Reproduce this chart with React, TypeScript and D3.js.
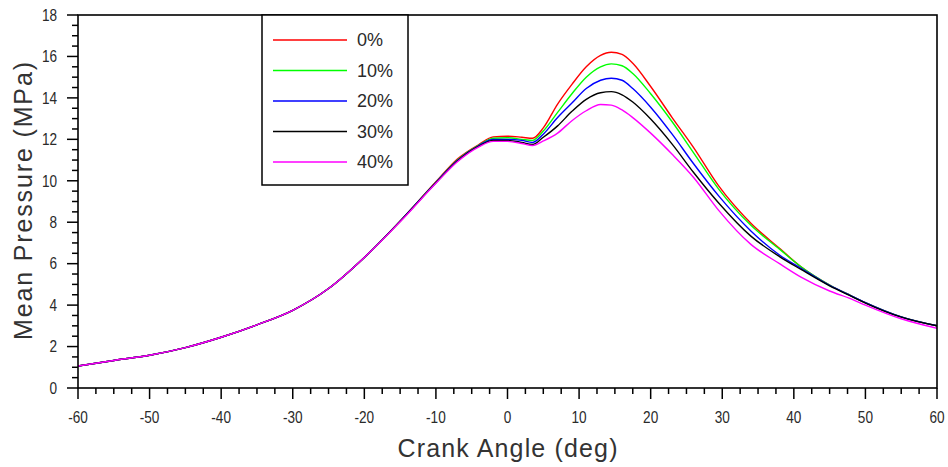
import React from "react";
import * as d3 from "d3";

const angles = [-60, -55, -50, -45, -40, -35, -30, -25, -20, -15, -10, -7, -4, -2, 0, 2, 3.5, 5, 7, 9, 11, 13, 14.5, 16, 17.5, 20, 23, 26, 29.5, 34, 38, 41, 45, 48, 50, 55, 60];

const p0 = [1.06, 1.33, 1.58, 1.95, 2.45, 3.05, 3.75, 4.8, 6.3, 8.05, 9.95, 11.05, 11.75, 12.12, 12.15, 12.1, 12.05, 12.55, 13.7, 14.65, 15.5, 16.05, 16.2, 16.1, 15.67, 14.55, 13.05, 11.6, 9.75, 7.95, 6.74, 5.85, 4.97, 4.45, 4.12, 3.43, 3.0];
const p10 = [1.06, 1.33, 1.58, 1.95, 2.45, 3.05, 3.75, 4.8, 6.3, 8.05, 9.93, 11.0, 11.72, 12.05, 12.08, 12.0, 11.95, 12.4, 13.3, 14.2, 15.0, 15.5, 15.64, 15.55, 15.18, 14.2, 12.85, 11.35, 9.6, 7.85, 6.7, 5.85, 4.97, 4.45, 4.12, 3.43, 3.0];
const p20 = [1.06, 1.33, 1.58, 1.95, 2.45, 3.05, 3.75, 4.8, 6.3, 8.05, 9.92, 10.98, 11.7, 12.0, 12.0, 11.95, 11.85, 12.25, 13.05, 13.75, 14.45, 14.85, 14.95, 14.85, 14.45, 13.55, 12.25, 10.82, 9.27, 7.58, 6.42, 5.78, 4.95, 4.45, 4.12, 3.43, 3.0];
const p30 = [1.06, 1.33, 1.58, 1.95, 2.45, 3.05, 3.75, 4.8, 6.3, 8.05, 9.9, 10.95, 11.67, 11.95, 11.95, 11.85, 11.75, 12.1, 12.65, 13.35, 13.93, 14.25, 14.3, 14.15, 13.8, 12.98, 11.77, 10.4, 8.93, 7.33, 6.34, 5.72, 4.93, 4.43, 4.1, 3.42, 3.0];
const p40 = [1.06, 1.33, 1.58, 1.95, 2.45, 3.05, 3.75, 4.8, 6.3, 8.02, 9.88, 10.92, 11.64, 11.9, 11.9, 11.8, 11.7, 11.92, 12.3, 12.9, 13.38, 13.68, 13.65, 13.42, 13.05, 12.3, 11.28, 10.16, 8.57, 6.93, 6.0, 5.35, 4.68, 4.3, 4.0, 3.34, 2.88];

const seriesNames = ["0%", "10%", "20%", "30%", "40%"];
const seriesData = [p0, p10, p20, p30, p40];
const seriesColors = ["#ff0000", "#00ff00", "#0000ff", "#000000", "#ff00ff"];

const xMajorTicks = [-60, -50, -40, -30, -20, -10, 0, 10, 20, 30, 40, 50, 60];
const yMajorTicks = [0, 2, 4, 6, 8, 10, 12, 14, 16, 18];

const W = 948;
const H = 467;
const L = 78;
const R = 937;
const T = 15;
const B = 388;

export default function App() {
  const x = d3.scaleLinear().domain([-60, 60]).range([L, R]);
  const y = d3.scaleLinear().domain([0, 18]).range([B, T]);
  const xMinor = d3.range(-60, 60.01, 2.5);
  const yMinor = d3.range(0, 18.01, 0.5);
  const line = d3
    .line<number>()
    .x((_, i) => x(angles[i]))
    .y((d) => y(d))
    .curve(d3.curveMonotoneX);

  const font = "'Liberation Sans', Arial, sans-serif";
  const legendY = (i: number) => 40 + i * 30.5;

  return (
    <svg width={W} height={H} style={{ position: "absolute", left: 0, top: 0, background: "#fff" }}>
      <rect x={0} y={0} width={W} height={H} fill="#fff" />
      <defs>
        <clipPath id="clip">
          <rect x={L} y={T} width={R - L} height={B - T} />
        </clipPath>
      </defs>
      {/* series */}
      <g clipPath="url(#clip)">
        {seriesData.map((s, i) => (
          <path key={i} d={line(s) || ""} fill="none" stroke={seriesColors[i]} strokeWidth={1.4} />
        ))}
      </g>
      {/* frame */}
      <rect x={L} y={T} width={R - L} height={B - T} fill="none" stroke="#000" strokeWidth={1.6} />
      {/* y ticks */}
      {yMinor.map((v) => {
        const major = Math.abs(v / 2 - Math.round(v / 2)) < 1e-6;
        return <line key={"ym" + v} x1={L - (major ? 11 : 6)} x2={L} y1={y(v)} y2={y(v)} stroke="#000" strokeWidth={1.5} />;
      })}
      {yMajorTicks.map((v) => (
        <text
          key={"yl" + v}
          transform={`translate(57, ${y(v)}) scale(0.85, 1)`}
          dy="0.36em"
          textAnchor="end"
          fontFamily={font}
          fontSize={16}
          fill="#2a2a2a"
        >
          {v}
        </text>
      ))}
      {/* x ticks */}
      {xMinor.map((v) => {
        const major = Math.abs(v / 10 - Math.round(v / 10)) < 1e-6;
        return <line key={"xm" + v} x1={x(v)} x2={x(v)} y1={B} y2={B + (major ? 11 : 6)} stroke="#000" strokeWidth={1.5} />;
      })}
      {xMajorTicks.map((v) => (
        <text
          key={"xl" + v}
          transform={`translate(${x(v)}, 423) scale(0.85, 1)`}
          textAnchor="middle"
          fontFamily={font}
          fontSize={16}
          fill="#2a2a2a"
        >
          {v}
        </text>
      ))}
      {/* axis titles */}
      <text x={x(0)} y={457} textAnchor="middle" fontFamily={font} fontSize={25} fill="#333" textLength={220} lengthAdjust="spacing">
        Crank Angle (deg)
      </text>
      <text
        transform={`translate(32, ${(62 + 340) / 2}) rotate(-90)`}
        textAnchor="middle"
        fontFamily={font}
        fontSize={25}
        fill="#333"
        textLength={278}
        lengthAdjust="spacing"
      >
        Mean Pressure (MPa)
      </text>
      {/* legend */}
      <rect x={262} y={T} width={146} height={170} fill="#fff" stroke="#000" strokeWidth={1.5} />
      {seriesNames.map((n, i) => (
        <g key={n}>
          <line x1={273} x2={347} y1={legendY(i)} y2={legendY(i)} stroke={seriesColors[i]} strokeWidth={1.4} />
          <text x={357} y={legendY(i) + 6} fontFamily={font} fontSize={18} fill="#2a2a2a">
            {n}
          </text>
        </g>
      ))}
    </svg>
  );
}
